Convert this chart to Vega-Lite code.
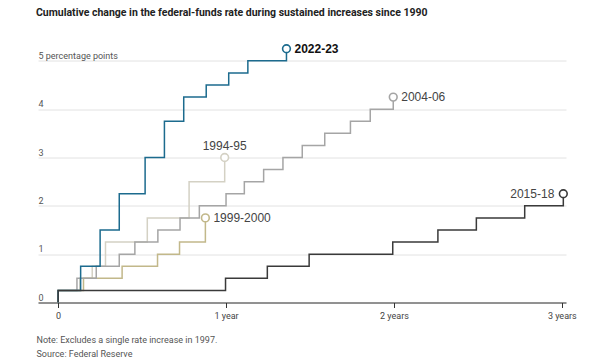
{
  "$schema": "https://vega.github.io/schema/vega-lite/v6.json",
  "width": 528,
  "height": 261,
  "autosize": {"type": "none"},
  "padding": {"left": 38, "top": 41.5, "right": 34, "bottom": 60.5},
  "background": "white",
  "title": {
    "text": "Cumulative change in the federal-funds rate during sustained increases since 1990",
    "anchor": "start",
    "frame": "group",
    "offset": 23,
    "dx": -2,
    "fontSize": 10.5,
    "font": "Roboto",
    "fontWeight": "bold",
    "color": "#222"
  },
  "config": {"view": {"stroke": null}},
  "data": {
    "values": [
      {"series": "1994-95", "t": 0, "v": 0},
      {"series": "1994-95", "t": 0, "v": 0.25},
      {"series": "1994-95", "t": 0.129, "v": 0.5},
      {"series": "1994-95", "t": 0.203, "v": 0.75},
      {"series": "1994-95", "t": 0.282, "v": 1.25},
      {"series": "1994-95", "t": 0.531, "v": 1.75},
      {"series": "1994-95", "t": 0.78, "v": 2.5},
      {"series": "1994-95", "t": 0.992, "v": 3.0},
      {"series": "1999-2000", "t": 0, "v": 0},
      {"series": "1999-2000", "t": 0, "v": 0.25},
      {"series": "1999-2000", "t": 0.151, "v": 0.5},
      {"series": "1999-2000", "t": 0.381, "v": 0.75},
      {"series": "1999-2000", "t": 0.592, "v": 1.0},
      {"series": "1999-2000", "t": 0.723, "v": 1.25},
      {"series": "1999-2000", "t": 0.877, "v": 1.75},
      {"series": "2004-06", "t": 0, "v": 0},
      {"series": "2004-06", "t": 0, "v": 0.25},
      {"series": "2004-06", "t": 0.112, "v": 0.5},
      {"series": "2004-06", "t": 0.227, "v": 0.75},
      {"series": "2004-06", "t": 0.364, "v": 1.0},
      {"series": "2004-06", "t": 0.457, "v": 1.25},
      {"series": "2004-06", "t": 0.594, "v": 1.5},
      {"series": "2004-06", "t": 0.726, "v": 1.75},
      {"series": "2004-06", "t": 0.841, "v": 2.0},
      {"series": "2004-06", "t": 1.0, "v": 2.25},
      {"series": "2004-06", "t": 1.109, "v": 2.5},
      {"series": "2004-06", "t": 1.224, "v": 2.75},
      {"series": "2004-06", "t": 1.339, "v": 3.0},
      {"series": "2004-06", "t": 1.454, "v": 3.25},
      {"series": "2004-06", "t": 1.588, "v": 3.5},
      {"series": "2004-06", "t": 1.741, "v": 3.75},
      {"series": "2004-06", "t": 1.859, "v": 4.0},
      {"series": "2004-06", "t": 1.996, "v": 4.25},
      {"series": "2022-23", "t": 0, "v": 0},
      {"series": "2022-23", "t": 0, "v": 0.25},
      {"series": "2022-23", "t": 0.134, "v": 0.75},
      {"series": "2022-23", "t": 0.25, "v": 1.5},
      {"series": "2022-23", "t": 0.364, "v": 2.25},
      {"series": "2022-23", "t": 0.518, "v": 3.0},
      {"series": "2022-23", "t": 0.633, "v": 3.75},
      {"series": "2022-23", "t": 0.748, "v": 4.25},
      {"series": "2022-23", "t": 0.882, "v": 4.5},
      {"series": "2022-23", "t": 1.016, "v": 4.75},
      {"series": "2022-23", "t": 1.13, "v": 5.0},
      {"series": "2022-23", "t": 1.36, "v": 5.25},
      {"series": "2015-18", "t": 0, "v": 0},
      {"series": "2015-18", "t": 0, "v": 0.25},
      {"series": "2015-18", "t": 0.997, "v": 0.5},
      {"series": "2015-18", "t": 1.246, "v": 0.75},
      {"series": "2015-18", "t": 1.495, "v": 1.0},
      {"series": "2015-18", "t": 1.993, "v": 1.25},
      {"series": "2015-18", "t": 2.262, "v": 1.5},
      {"series": "2015-18", "t": 2.491, "v": 1.75},
      {"series": "2015-18", "t": 2.779, "v": 2.0},
      {"series": "2015-18", "t": 3.009, "v": 2.25}
    ]
  },
  "encoding": {
    "x": {
      "field": "t",
      "type": "quantitative",
      "scale": {"domain": [-0.12, 3.025], "nice": false, "zero": false},
      "axis": {
        "values": [0, 1, 2, 3],
        "labelExpr": "datum.value == 0 ? '0' : (datum.value == 1 ? '1 year' : datum.value + ' years')",
        "grid": false,
        "domainColor": "#333",
        "tickColor": "#333",
        "tickSize": 5,
        "labelPadding": 4,
        "labelFont": "Roboto",
        "labelFontSize": 9,
        "labelColor": "#444",
        "title": ["Note: Excludes a single rate increase in 1997.", "Source: Federal Reserve"],
        "titleAnchor": "start",
        "titleAlign": "left",
        "titleX": -2,
        "titleFont": "Roboto",
        "titleFontSize": 9,
        "titleFontWeight": "normal",
        "titleColor": "#555",
        "titleLineHeight": 14,
        "titlePadding": 15
      }
    },
    "y": {
      "field": "v",
      "type": "quantitative",
      "scale": {"domain": [0, 5.4], "nice": false},
      "axis": {
        "values": [0, 1, 2, 3, 4, 5],
        "labelExpr": "datum.value == 5 ? '5 percentage points' : datum.label",
        "grid": true,
        "gridColor": "#e2e2e2",
        "domain": false,
        "ticks": false,
        "tickSize": 0,
        "labelAlign": "left",
        "labelBaseline": "alphabetic",
        "labelPadding": 0,
        "labelOffset": -2.5,
        "labelFont": "Roboto",
        "labelFontSize": 9,
        "labelColor": "#555",
        "title": null
      }
    }
  },
  "layer": [
    {
      "mark": {"type": "line", "interpolate": "step-after", "strokeWidth": 1.5},
      "encoding": {
        "color": {
          "field": "series",
          "type": "nominal",
          "scale": {
            "domain": ["1994-95", "1999-2000", "2004-06", "2022-23", "2015-18"],
            "range": ["#d4d1c4", "#c2b88a", "#a5a5a5", "#1c6b8e", "#3a3a3a"]
          },
          "legend": null
        },
        "order": {"field": "v", "type": "quantitative"}
      }
    },
    {
      "transform": [
        {"joinaggregate": [{"op": "max", "field": "t", "as": "tmax"}], "groupby": ["series"]},
        {"filter": "datum.t == datum.tmax"}
      ],
      "layer": [
        {
          "mark": {"type": "point", "shape": "circle", "filled": true, "fill": "white", "size": 60, "strokeWidth": 1.6, "opacity": 1},
          "encoding": {
            "stroke": {
              "field": "series",
              "type": "nominal",
              "scale": {
                "domain": ["1994-95", "1999-2000", "2004-06", "2022-23", "2015-18"],
                "range": ["#d4d1c4", "#c2b88a", "#a5a5a5", "#1c6b8e", "#3a3a3a"]
              },
              "legend": null
            }
          }
        },
        {
          "transform": [{"filter": "datum.series == '1999-2000' || datum.series == '2004-06'"}],
          "mark": {"type": "text", "align": "left", "baseline": "middle", "dx": 8, "dy": 0, "font": "Liberation Sans", "fontSize": 12, "color": "#444"},
          "encoding": {"text": {"field": "series"}}
        },
        {
          "transform": [{"filter": "datum.series == '2022-23'"}],
          "mark": {"type": "text", "align": "left", "baseline": "middle", "dx": 8, "dy": 0, "font": "Liberation Sans", "fontSize": 12, "fontWeight": "bold", "color": "#111"},
          "encoding": {"text": {"field": "series"}}
        },
        {
          "transform": [{"filter": "datum.series == '1994-95'"}],
          "mark": {"type": "text", "align": "center", "baseline": "middle", "dx": 0, "dy": -12, "font": "Liberation Sans", "fontSize": 12, "color": "#444"},
          "encoding": {"text": {"field": "series"}}
        },
        {
          "transform": [{"filter": "datum.series == '2015-18'"}],
          "mark": {"type": "text", "align": "right", "baseline": "middle", "dx": -9, "dy": 0, "font": "Liberation Sans", "fontSize": 12, "color": "#444"},
          "encoding": {"text": {"field": "series"}}
        }
      ]
    }
  ]
}
